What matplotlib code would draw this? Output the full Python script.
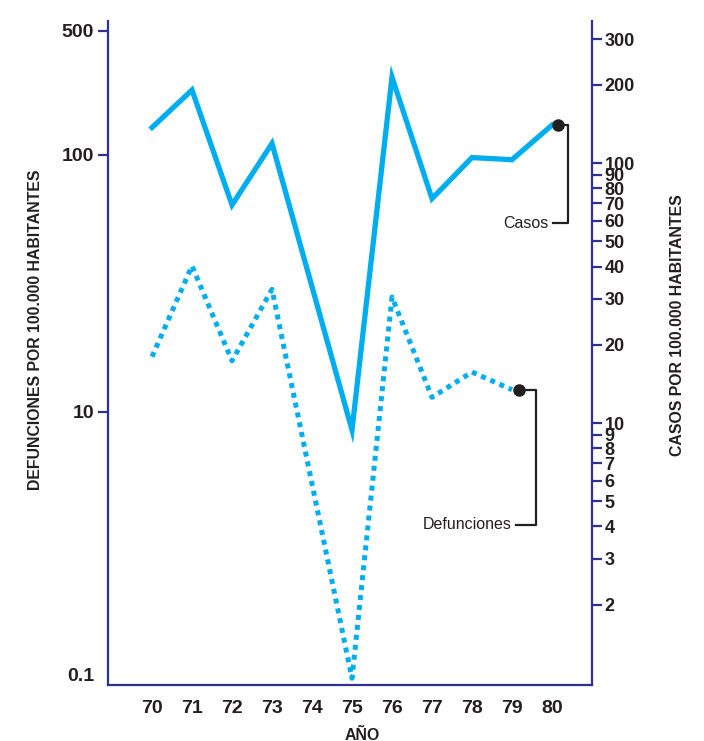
import matplotlib.pyplot as plt
from matplotlib.lines import Line2D
from matplotlib.transforms import IdentityTransform

# datos
anios_casos = [70, 71, 72, 73, 75, 76, 77, 78, 79, 80]
casos = [137, 191, 69, 119, 9.4, 214, 73, 105, 103, 140]

anios_def = [70, 71, 72, 73, 75, 76, 77, 78, 79]
defunciones = [16.4, 37, 15.8, 30, 0.92, 28, 11.4, 14.3, 12.2]

anios_ticks = [70, 71, 72, 73, 74, 75, 76, 77, 78, 79, 80]
ticks_der = [2, 3, 4, 5, 6, 7, 8, 9, 10, 20, 30, 40, 50, 60, 70, 80, 90, 100, 200, 300]
ticks_izq = [304, 100, 10, 0.95]
etiquetas_izq = ['500', '100', '10', '0.1']

AZUL = '#00aeef'
MARINO = '#2e3192'
NEGRO = '#231f20'
plt.rcParams['font.family'] = ['Liberation Sans', 'DejaVu Sans']

W, H = 704, 741
fig = plt.figure(figsize=(W / 100, H / 100), dpi=100)
ax = fig.add_axes([108 / W, 1 - 685 / H, (592 - 108) / W, (685 - 21) / H])
ax2 = ax.twinx()

# eje izquierdo: defunciones
ax.set_yscale('log')
ax.set_ylim(0.866, 332)
ax.set_xlim(68.9, 81.0)
ax.plot(anios_def, defunciones, color=AZUL, lw=3.6, linestyle=(0, (1, 1)),
        dash_capstyle='butt', solid_joinstyle='miter')
ax.set_yticks(ticks_izq)
ax.set_yticklabels(etiquetas_izq)
ax.yaxis.set_minor_locator(plt.NullLocator())
ax.yaxis.get_major_ticks()[-1].tick1line.set_visible(False)

# eje derecho: casos
ax2.set_yscale('log')
ax2.set_ylim(0.982, 352)
ax2.plot(anios_casos, casos, color=AZUL, lw=3.8, solid_joinstyle='miter')
ax2.set_yticks(ticks_der)
ax2.set_yticklabels([str(t) for t in ticks_der])
ax2.yaxis.set_minor_locator(plt.NullLocator())

ax.set_xticks(anios_ticks)
ax.set_xticklabels([str(a) for a in anios_ticks])

for a in (ax, ax2):
    a.spines['top'].set_visible(False)
    for s in ('left', 'right', 'bottom'):
        a.spines[s].set_color(MARINO)
        a.spines[s].set_linewidth(1.6)
ax.spines['right'].set_visible(False)
ax2.spines['left'].set_visible(False)
ax2.spines['bottom'].set_visible(False)

ax.tick_params(axis='y', length=7, width=1.6, color=MARINO, pad=3,
               labelsize=14, labelcolor=NEGRO)
ax2.tick_params(axis='y', length=7, width=1.6, color=MARINO, pad=2,
                labelsize=13, labelcolor=NEGRO)
ax.tick_params(axis='x', length=0, pad=11, labelsize=14, labelcolor=NEGRO)
for lab in ax.get_yticklabels() + ax2.get_yticklabels() + ax.get_xticklabels():
    lab.set_fontweight('bold')

fig.text(36 / W, 1 - 330 / H, 'DEFUNCIONES POR 100.000 HABITANTES', rotation=90,
         ha='center', va='center', fontsize=11.4, fontweight='bold', color=NEGRO)
fig.text(677 / W, 1 - 325 / H, 'CASOS POR 100.000 HABITANTES', rotation=90,
         ha='center', va='center', fontsize=11.4, fontweight='bold', color=NEGRO)
fig.text(362 / W, 1 - 736 / H, 'AÑO', ha='center', va='center',
         fontsize=11.4, fontweight='bold', color=NEGRO)


def llamada(eje, x, y, texto, dx_marca, dx_barra, dy_texto, dx_fin):
    # marca negra junto al ultimo punto y corchete hasta la etiqueta
    px, py = eje.transData.transform((x, y))
    mx = px + dx_marca
    bx = mx + dx_barra
    ty = py - dy_texto
    fig.add_artist(Line2D([mx, bx, bx, bx - dx_fin], [py, py, ty, ty],
                          color=NEGRO, lw=1.6, transform=IdentityTransform()))
    fig.add_artist(Line2D([mx], [py], marker='o', markersize=8, color=NEGRO,
                          transform=IdentityTransform()))
    fig.text(bx - dx_fin - 4, ty, texto, ha='right', va='center', fontsize=11.5,
             color=NEGRO, transform=IdentityTransform())


llamada(ax2, anios_casos[-1], casos[-1], 'Casos', 6, 10, 98, 15)
llamada(ax, anios_def[-1], defunciones[-1], 'Defunciones', 7, 17, 135, 20)

fig.savefig('out.png', dpi=100)
